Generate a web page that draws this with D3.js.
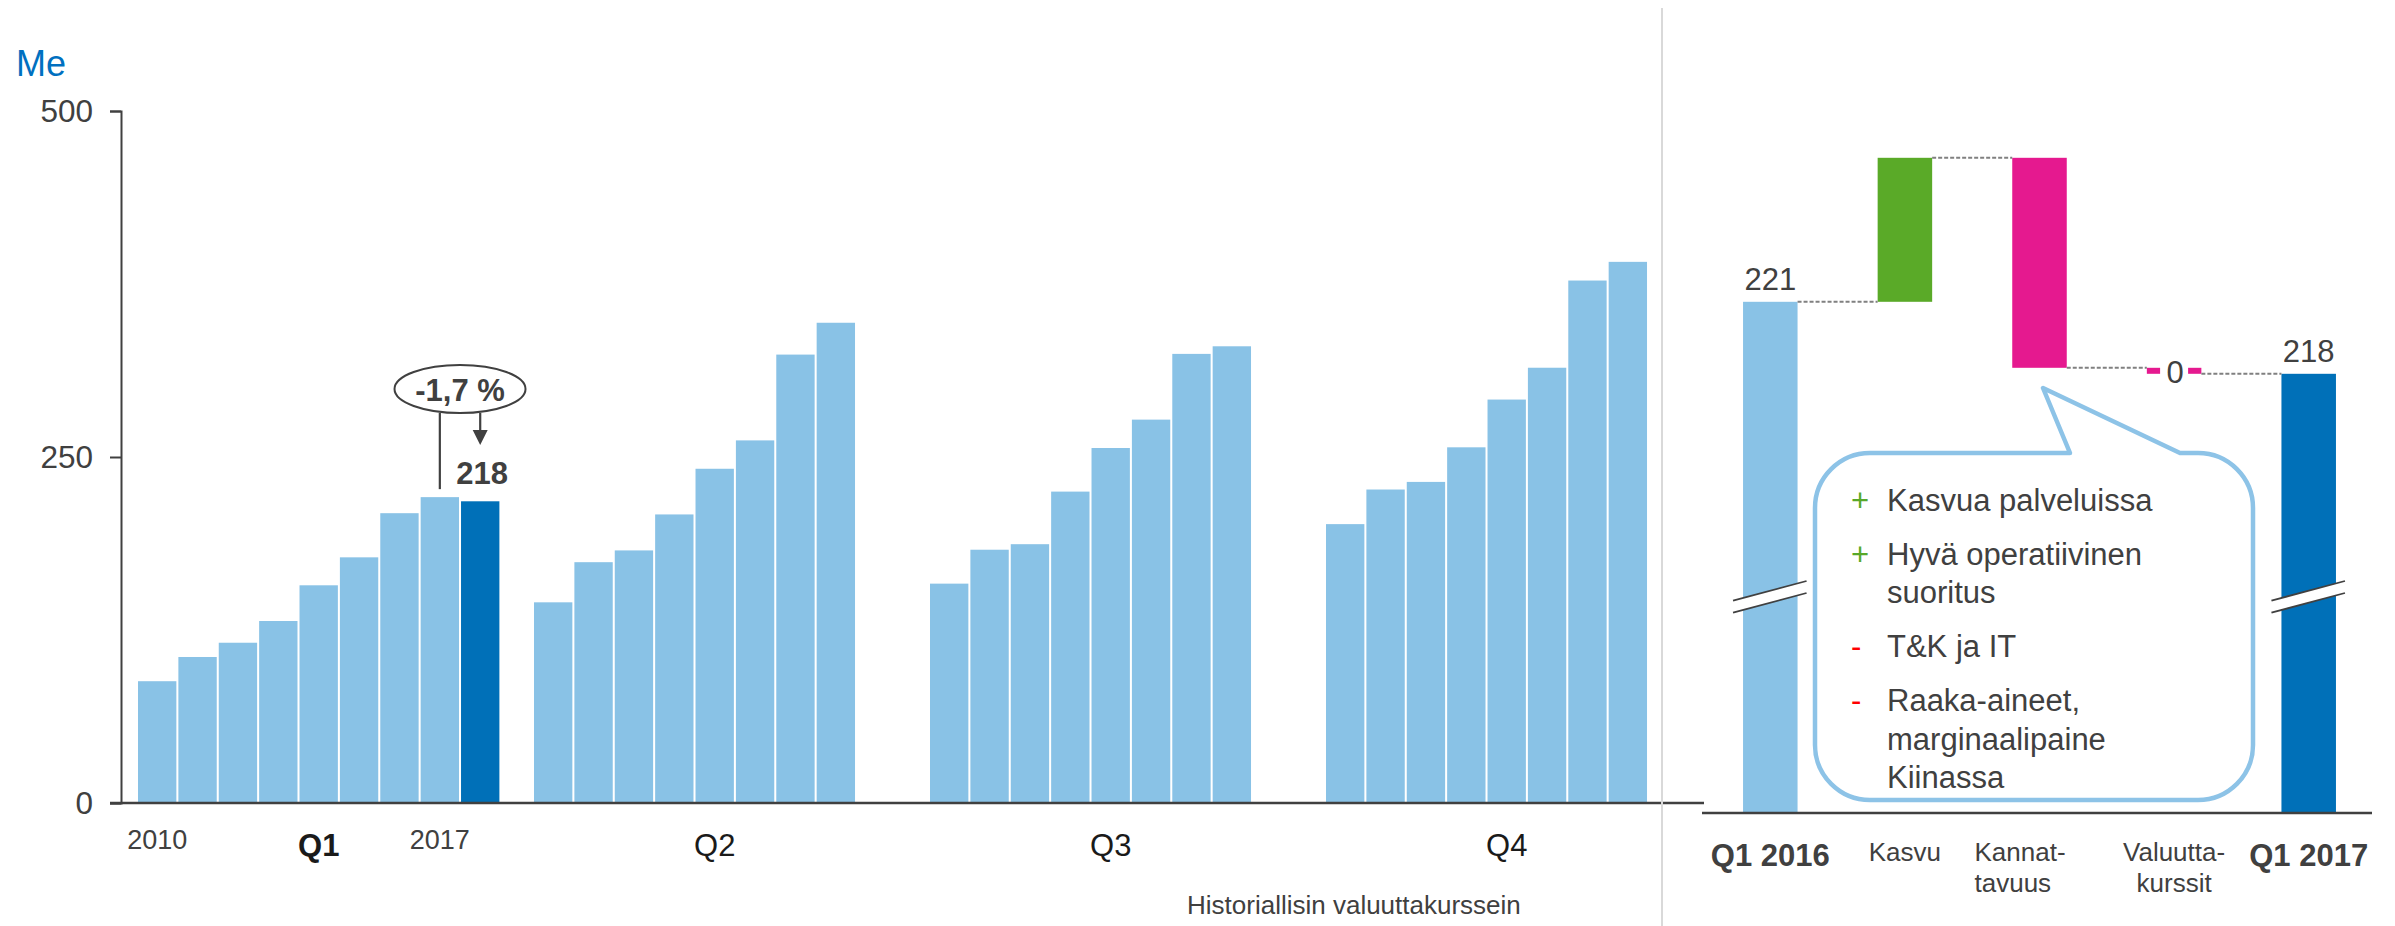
<!DOCTYPE html>
<html>
<head>
<meta charset="utf-8">
<script src="https://cdn.jsdelivr.net/npm/d3@7"></script>
<style>
html,body{margin:0;padding:0;background:#fff;}
svg{display:block;font-family:"Liberation Sans",Arial,sans-serif;}
</style>
</head>
<body>
<svg id="chart" width="2395" height="926"></svg>
<script>
// ---------------- DATA ----------------
const quarters = ["Q1", "Q2", "Q3", "Q4"];
const years = [2009, 2010, 2011, 2012, 2013, 2014, 2015, 2016, 2017];
const q1Values = [88, 105.5, 115.8, 131.5, 157.3, 177.5, 209.4, 221, 218];
const q2Values = [145, 174, 182.5, 208.5, 241.5, 262, 324, 347];
const q3Values = [158.5, 183, 187, 225, 256.5, 277, 324.5, 330];
const q4Values = [201.5, 226.5, 232, 257, 291.5, 314.5, 377.5, 391];
const yTicks = [0, 250, 500];
const yearTickLabels = ["2010", "2017"];
const yearTickYears = [2009, 2016];
const unitLabel = "Me";
const noteLabel = "Historiallisin valuuttakurssein";
const changeLabel = "-1,7 %";
const lastLabel = "218";

const wfCategories = ["Q1 2016", "Kasvu", "Kannattavuus", "Valuuttakurssit", "Q1 2017"];
const wfTickLines = [["Q1 2016"], ["Kasvu"], ["Kannat-", "tavuus"], ["Valuutta-", "kurssit"], ["Q1 2017"]];
const wfTypes = ["total", "delta", "delta", "delta", "total"];
const wfValues = [221, 6.0, -8.75, -0.25, 218];
const wfValueLabels = ["221", null, null, "0", "218"];
const bubbleSigns = ["+", "+", "-", "-"];
const bubbleItems = [
  ["Kasvua palveluissa"],
  ["Hyvä operatiivinen", "suoritus"],
  ["T&K ja IT"],
  ["Raaka-aineet,", "marginaalipaine", "Kiinassa"]
];

// ---------------- STYLE ----------------
const cLight = "#89C2E6", cDark = "#0070B8", cGreen = "#5AAA28", cPink = "#E5198F";
const cText = "#404040", cAxis = "#404040";

const svg = d3.select("#chart");

// ---------------- LEFT CHART ----------------
const y = d3.scaleLinear().domain([0, 500]).range([803, 111]);
const xQ = d3.scaleBand().domain(quarters).range([138, 1687.4]).paddingInner(0.0874).paddingOuter(0);
const xYear = d3.scaleBand().domain(years).range([0, xQ.bandwidth()]).paddingInner(0.05).paddingOuter(0);
const seriesByQ = {Q1: q1Values, Q2: q2Values, Q3: q3Values, Q4: q4Values};

const bars = [];
quarters.forEach(q => {
  seriesByQ[q].forEach((v, i) => {
    bars.push({q, year: years[i], value: v, hl: (q === "Q1" && i === 8)});
  });
});

svg.append("text").attr("x", 16).attr("y", 76)
  .attr("font-size", 36).attr("fill", "#0070C0").text(unitLabel);

svg.append("g").selectAll("rect").data(bars).join("rect")
  .attr("x", d => xQ(d.q) + xYear(d.year))
  .attr("y", d => y(d.value))
  .attr("width", xYear.bandwidth())
  .attr("height", d => y(0) - y(d.value))
  .attr("fill", d => d.hl ? cDark : cLight);

const yAxis = d3.axisLeft(y).tickValues(yTicks).tickSize(11).tickSizeOuter(11).tickPadding(17).tickFormat(d3.format("d"));
const gy = svg.append("g").attr("transform", "translate(121,0)").call(yAxis);
gy.selectAll("path,line").attr("stroke", cAxis).attr("stroke-width", 2);
gy.selectAll("text").attr("font-size", 31.5).attr("fill", cText).attr("font-family", "Liberation Sans, Arial, sans-serif");

svg.append("line").attr("x1", 110).attr("x2", 1704).attr("y1", y(0)).attr("y2", y(0))
  .attr("stroke", cAxis).attr("stroke-width", 2.5);

// year tick labels
svg.append("g").selectAll("text").data(yearTickLabels).join("text")
  .attr("x", (d, i) => xQ("Q1") + xYear(yearTickYears[i]) + xYear.bandwidth() / 2)
  .attr("y", 849).attr("text-anchor", "middle")
  .attr("font-size", 27).attr("fill", cText).text(d => d);

// quarter labels
svg.append("g").selectAll("text").data(quarters).join("text")
  .attr("x", d => xQ(d) + xQ.bandwidth() / 2)
  .attr("y", 856).attr("text-anchor", "middle")
  .attr("font-size", 31).attr("font-weight", (d, i) => i === 0 ? "bold" : "normal")
  .attr("fill", "#1a1a1a").text(d => d);

svg.append("text").attr("x", 1187).attr("y", 914)
  .attr("font-size", 26).attr("fill", cText).text(noteLabel);

// annotation -1,7 %
const cx8 = xQ("Q1") + xYear(2016) + xYear.bandwidth() / 2;
const cx9 = xQ("Q1") + xYear(2017) + xYear.bandwidth() / 2;
const ecx = (cx8 + cx9) / 2, ecy = 389, erx = 65.5, ery = 24;
svg.append("line").attr("x1", cx8).attr("x2", cx8).attr("y1", ecy + ery).attr("y2", y(q1Values[7]) - 8)
  .attr("stroke", cAxis).attr("stroke-width", 2.2);
svg.append("line").attr("x1", cx9).attr("x2", cx9).attr("y1", ecy + ery).attr("y2", 432)
  .attr("stroke", cAxis).attr("stroke-width", 2.2);
svg.append("path").attr("d", `M${cx9 - 7.5},430L${cx9 + 7.5},430L${cx9},445Z`).attr("fill", cAxis);
svg.append("ellipse").attr("cx", ecx).attr("cy", ecy).attr("rx", erx).attr("ry", ery)
  .attr("fill", "#fff").attr("stroke", cAxis).attr("stroke-width", 2);
svg.append("text").attr("x", ecx).attr("y", 400.5).attr("text-anchor", "middle")
  .attr("font-size", 31).attr("font-weight", "bold").attr("fill", cText).text(changeLabel);
svg.append("text").attr("x", cx9 + 2).attr("y", 484).attr("text-anchor", "middle")
  .attr("font-size", 31).attr("font-weight", "bold").attr("fill", cText).text(lastLabel);

// separator
svg.append("line").attr("x1", 1662).attr("x2", 1662).attr("y1", 8).attr("y2", 926)
  .attr("stroke", "#d9d9d9").attr("stroke-width", 2);

// ---------------- WATERFALL ----------------
const xW = d3.scaleBand().domain(wfCategories).range([1703, 2376]).paddingInner(0.595).paddingOuter(0.2975);
const yW = d3.scaleLinear().domain([199.7, 230]).range([813, 85.8]);
const wfBase = yW.domain()[0];

let run = 0;
const wf = wfCategories.map((c, i) => {
  let lo, hi, end;
  if (wfTypes[i] === "total") { lo = wfBase; hi = wfValues[i]; end = wfValues[i]; }
  else { const s = run; end = run + wfValues[i]; lo = Math.min(s, end); hi = Math.max(s, end); }
  const start = wfTypes[i] === "total" ? wfValues[i] : run;
  run = end;
  return {c, i, lo, hi, start, end};
});
const wfColors = [cLight, cGreen, cPink, cPink, cDark];

svg.append("g").selectAll("rect").data(wf).join("rect")
  .attr("x", d => xW(d.c)).attr("width", xW.bandwidth())
  .attr("y", d => yW(d.hi)).attr("height", d => yW(d.lo) - yW(d.hi))
  .attr("fill", (d, i) => wfColors[i]);

// connectors
const conns = wf.slice(0, -1).map((d, i) => ({x1: xW(d.c) + xW.bandwidth(), x2: xW(wf[i + 1].c), v: d.end}));
svg.append("g").selectAll("line").data(conns).join("line")
  .attr("x1", d => d.x1).attr("x2", d => d.x2)
  .attr("y1", d => yW(d.v)).attr("y2", d => yW(d.v))
  .attr("stroke", "#808080").attr("stroke-width", 2).attr("stroke-dasharray", "4,2");

// "0" label over currency bar
const cCur = wf[3];
const curX = xW(cCur.c) + xW.bandwidth() / 2;
svg.append("rect").attr("x", curX - 14).attr("y", yW(cCur.lo) - 12).attr("width", 28).attr("height", 22).attr("fill", "#fff");
svg.append("text").attr("x", curX + 1).attr("y", 383).attr("text-anchor", "middle")
  .attr("font-size", 31).attr("fill", cText).text(wfValueLabels[3]);

// total value labels
[0, 4].forEach(i => {
  svg.append("text").attr("x", xW(wfCategories[i]) + xW.bandwidth() / 2).attr("y", yW(wfValues[i]) - 12)
    .attr("text-anchor", "middle").attr("font-size", 31).attr("fill", cText).text(wfValueLabels[i]);
});

// axis breaks
[0, 4].forEach(i => {
  const bx = xW(wfCategories[i]);
  const xa = bx - 10, xb = bx + xW.bandwidth() + 9;
  svg.append("path").attr("d", `M${xa},600.7L${xb},581L${xb},593L${xa},612.7Z`).attr("fill", "#fff");
  svg.append("line").attr("x1", xa).attr("y1", 600.7).attr("x2", xb).attr("y2", 581).attr("stroke", cAxis).attr("stroke-width", 1.8);
  svg.append("line").attr("x1", xa).attr("y1", 612.7).attr("x2", xb).attr("y2", 593).attr("stroke", cAxis).attr("stroke-width", 1.8);
});

// waterfall axis
svg.append("line").attr("x1", 1702).attr("x2", 2372).attr("y1", 813).attr("y2", 813)
  .attr("stroke", cAxis).attr("stroke-width", 2.5);

// category labels
wfTickLines.forEach((lines, i) => {
  const cxw = xW(wfCategories[i]) + xW.bandwidth() / 2;
  const bold = wfTypes[i] === "total";
  const t = svg.append("text").attr("fill", cText)
    .attr("font-size", bold ? 31 : 26).attr("font-weight", bold ? "bold" : "normal");
  if (i === 2) {
    t.attr("text-anchor", "start");
    lines.forEach((l, k) => t.append("tspan").attr("x", cxw - 65).attr("y", 861 + k * 31).text(l));
  } else {
    t.attr("text-anchor", "middle");
    lines.forEach((l, k) => t.append("tspan").attr("x", cxw).attr("y", (bold ? 866 : 861) + k * 31).text(l));
  }
});

// callout bubble
const bx0 = 1815, bx1 = 2253, by0 = 453, by1 = 800, br = 55;
const p = d3.path();
p.moveTo(bx0 + br, by0);
p.lineTo(2070, by0);
p.lineTo(2043, 388);
p.lineTo(2180, by0);
p.lineTo(bx1 - br, by0);
p.arcTo(bx1, by0, bx1, by0 + br, br);
p.lineTo(bx1, by1 - br);
p.arcTo(bx1, by1, bx1 - br, by1, br);
p.lineTo(bx0 + br, by1);
p.arcTo(bx0, by1, bx0, by1 - br, br);
p.lineTo(bx0, by0 + br);
p.arcTo(bx0, by0, bx0 + br, by0, br);
p.closePath();
svg.append("path").attr("d", p.toString()).attr("fill", "#fff")
  .attr("stroke", "#8DC3E7").attr("stroke-width", 4.5).attr("stroke-linejoin", "round");

let by = 510.5;
bubbleItems.forEach((lines, i) => {
  svg.append("text").attr("x", 1851).attr("y", by).attr("font-size", 31)
    .attr("fill", bubbleSigns[i] === "+" ? "#58A829" : "#FF0000").text(bubbleSigns[i]);
  lines.forEach((l, k) => {
    svg.append("text").attr("x", 1887).attr("y", by + k * 38.5).attr("font-size", 31)
      .attr("fill", cText).text(l);
  });
  by += (lines.length - 1) * 38.5 + 54;
});
</script>
</body>
</html>
